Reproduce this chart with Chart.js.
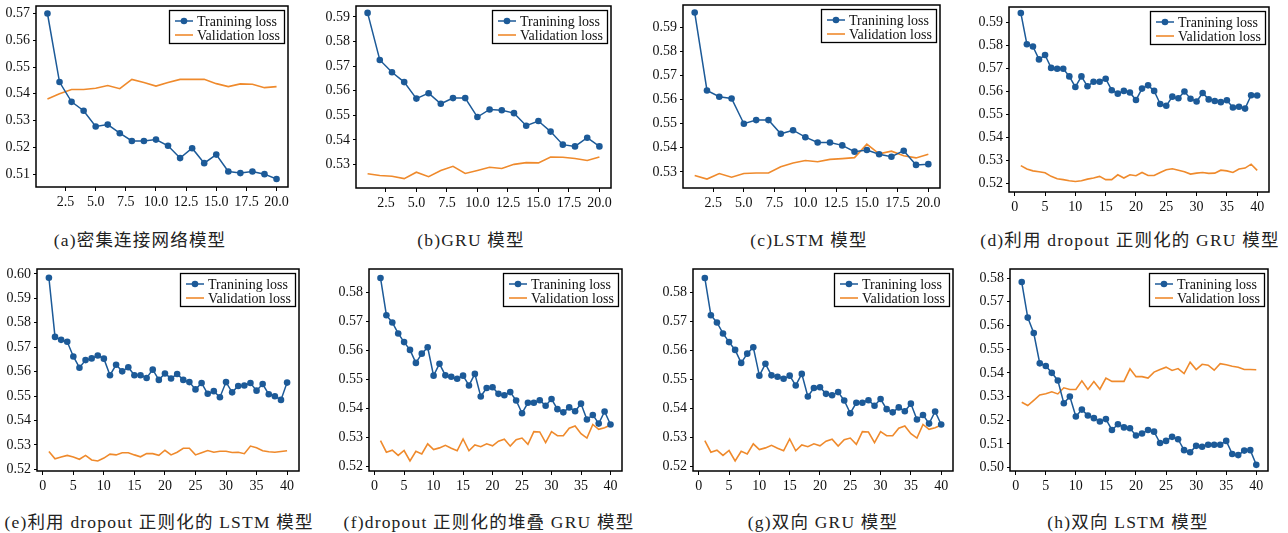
<!DOCTYPE html>
<html>
<head>
<meta charset="utf-8">
<script src="https://cdn.jsdelivr.net/npm/chart.js@4.4.1/dist/chart.umd.min.js"></script>
<style>
    body { margin: 0; background: #fff; width: 1288px; height: 533px; position: relative; overflow: hidden; }
    canvas { position: absolute; }
    .cap {
        position: absolute;
        font-family: "Liberation Serif", "Noto Sans CJK SC", serif;
        font-size: 17.5px;
        letter-spacing: 1.2px;
        color: #222;
        white-space: nowrap;
        transform: translate(-50%, -50%);
    }
</style>
</head>
<body>
<script>
// ===========================
// Data
// ===========================

const epochs20 = [1, 2, 3, 4, 5, 6, 7, 8, 9, 10, 11, 12, 13, 14, 15, 16, 17, 18, 19, 20];
const epochs40 = [1, 2, 3, 4, 5, 6, 7, 8, 9, 10, 11, 12, 13, 14, 15, 16, 17, 18, 19, 20,
    21, 22, 23, 24, 25, 26, 27, 28, 29, 30, 31, 32, 33, 34, 35, 36, 37, 38, 39, 40];

const xTicks20 = [2.5, 5.0, 7.5, 10.0, 12.5, 15.0, 17.5, 20.0];
const xTicks40 = [0, 5, 10, 15, 20, 25, 30, 35, 40];

const yTicksA = [0.51, 0.52, 0.53, 0.54, 0.55, 0.56, 0.57];
const yTicksB = [0.53, 0.54, 0.55, 0.56, 0.57, 0.58, 0.59];
const yTicksC = [0.53, 0.54, 0.55, 0.56, 0.57, 0.58, 0.59];
const yTicksD = [0.52, 0.53, 0.54, 0.55, 0.56, 0.57, 0.58, 0.59];
const yTicksE = [0.52, 0.53, 0.54, 0.55, 0.56, 0.57, 0.58, 0.59, 0.60];
const yTicksF = [0.52, 0.53, 0.54, 0.55, 0.56, 0.57, 0.58];
const yTicksG = [0.52, 0.53, 0.54, 0.55, 0.56, 0.57, 0.58];
const yTicksH = [0.50, 0.51, 0.52, 0.53, 0.54, 0.55, 0.56, 0.57, 0.58];

// (a) 密集连接网络
const denseTrain = [0.5700, 0.5444, 0.5370, 0.5337, 0.5278, 0.5285, 0.5253, 0.5224, 0.5224, 0.5229,
    0.5206, 0.5160, 0.5197, 0.5141, 0.5173, 0.5110, 0.5104, 0.5110, 0.5100, 0.5082];
const denseVal = [0.5381, 0.5400, 0.5416, 0.5416, 0.5421, 0.5431, 0.5419, 0.5454, 0.5442, 0.5429,
    0.5442, 0.5454, 0.5454, 0.5454, 0.5438, 0.5427, 0.5437, 0.5436, 0.5423, 0.5427];

// (b) GRU
const gruTrain = [0.5916, 0.5725, 0.5675, 0.5635, 0.5568, 0.5590, 0.5547, 0.5570, 0.5570, 0.5493,
    0.5524, 0.5521, 0.5509, 0.5458, 0.5477, 0.5434, 0.5381, 0.5374, 0.5409, 0.5374];
const gruVal = [0.5263, 0.5256, 0.5253, 0.5243, 0.5269, 0.5251, 0.5276, 0.5293, 0.5264, 0.5276,
    0.5289, 0.5284, 0.5301, 0.5308, 0.5307, 0.5331, 0.5330, 0.5325, 0.5317, 0.5331];

// (c) LSTM
const lstmTrain = [0.5962, 0.5638, 0.5612, 0.5605, 0.5500, 0.5515, 0.5515, 0.5458, 0.5473, 0.5444,
    0.5422, 0.5422, 0.5410, 0.5384, 0.5391, 0.5373, 0.5363, 0.5388, 0.5329, 0.5332];
const lstmVal = [0.5285, 0.5270, 0.5293, 0.5278, 0.5293, 0.5295, 0.5295, 0.5321, 0.5337, 0.5347,
    0.5342, 0.5352, 0.5355, 0.5359, 0.5415, 0.5375, 0.5386, 0.5367, 0.5358, 0.5373];

// (d) dropout GRU
const gruDropTrain = [0.5940, 0.5804, 0.5794, 0.5738, 0.5757, 0.5701, 0.5697, 0.5697, 0.5664, 0.5618,
    0.5664, 0.5621, 0.5641, 0.5641, 0.5654, 0.5604, 0.5589, 0.5601, 0.5594, 0.5561,
    0.5611, 0.5625, 0.5601, 0.5544, 0.5536, 0.5576, 0.5569, 0.5598, 0.5567, 0.5555,
    0.5592, 0.5564, 0.5557, 0.5552, 0.5560, 0.5529, 0.5532, 0.5524, 0.5582, 0.5581];
const gruDropVal = [0.5276, 0.5261, 0.5253, 0.5249, 0.5245, 0.5229, 0.5219, 0.5215, 0.5210, 0.5207,
    0.5210, 0.5217, 0.5222, 0.5229, 0.5215, 0.5215, 0.5236, 0.5222, 0.5236, 0.5232,
    0.5246, 0.5233, 0.5233, 0.5246, 0.5258, 0.5262, 0.5256, 0.5249, 0.5239, 0.5243,
    0.5246, 0.5242, 0.5243, 0.5256, 0.5253, 0.5246, 0.5261, 0.5265, 0.5282, 0.5255];

// (e) dropout LSTM
const lstmDropTrain = [0.5984, 0.5742, 0.5730, 0.5722, 0.5662, 0.5616, 0.5647, 0.5654, 0.5666, 0.5653,
    0.5585, 0.5628, 0.5601, 0.5618, 0.5585, 0.5585, 0.5574, 0.5608, 0.5566, 0.5592,
    0.5572, 0.5590, 0.5566, 0.5557, 0.5527, 0.5553, 0.5509, 0.5520, 0.5495, 0.5557,
    0.5515, 0.5541, 0.5543, 0.5553, 0.5522, 0.5549, 0.5507, 0.5499, 0.5484, 0.5555];
const lstmDropVal = [0.5273, 0.5243, 0.5250, 0.5257, 0.5250, 0.5241, 0.5257, 0.5238, 0.5234, 0.5246,
    0.5262, 0.5259, 0.5268, 0.5268, 0.5259, 0.5251, 0.5264, 0.5264, 0.5257, 0.5278,
    0.5259, 0.5270, 0.5286, 0.5286, 0.5259, 0.5268, 0.5277, 0.5270, 0.5274, 0.5274,
    0.5269, 0.5270, 0.5264, 0.5295, 0.5288, 0.5276, 0.5272, 0.5270, 0.5273, 0.5276];

// (f) stacked GRU with dropout
const stackGruTrain = [0.5851, 0.5722, 0.5697, 0.5659, 0.5629, 0.5602, 0.5557, 0.5589, 0.5611, 0.5513,
    0.5554, 0.5514, 0.5509, 0.5502, 0.5513, 0.5479, 0.5519, 0.5441, 0.5470, 0.5473,
    0.5450, 0.5445, 0.5456, 0.5427, 0.5383, 0.5419, 0.5419, 0.5428, 0.5409, 0.5432,
    0.5397, 0.5386, 0.5403, 0.5390, 0.5416, 0.5361, 0.5377, 0.5347, 0.5389, 0.5344];
const stackGruVal = [0.5288, 0.5248, 0.5255, 0.5237, 0.5254, 0.5218, 0.5251, 0.5242, 0.5277, 0.5257,
    0.5263, 0.5272, 0.5262, 0.5253, 0.5294, 0.5253, 0.5273, 0.5267, 0.5277, 0.5270,
    0.5286, 0.5293, 0.5269, 0.5291, 0.5297, 0.5275, 0.5319, 0.5318, 0.5281, 0.5319,
    0.5305, 0.5305, 0.5331, 0.5339, 0.5312, 0.5297, 0.5344, 0.5327, 0.5333, 0.5342];

// (g) bidirectional GRU (same curves as (f) in the source figure)
const biGruTrain = [0.5851, 0.5722, 0.5697, 0.5659, 0.5629, 0.5602, 0.5557, 0.5589, 0.5611, 0.5513,
    0.5554, 0.5514, 0.5509, 0.5502, 0.5513, 0.5479, 0.5519, 0.5441, 0.5470, 0.5473,
    0.5450, 0.5445, 0.5456, 0.5427, 0.5383, 0.5419, 0.5419, 0.5428, 0.5409, 0.5432,
    0.5397, 0.5386, 0.5403, 0.5390, 0.5416, 0.5361, 0.5377, 0.5347, 0.5389, 0.5344];
const biGruVal = [0.5288, 0.5248, 0.5255, 0.5237, 0.5254, 0.5218, 0.5251, 0.5242, 0.5277, 0.5257,
    0.5263, 0.5272, 0.5262, 0.5253, 0.5294, 0.5253, 0.5273, 0.5267, 0.5277, 0.5270,
    0.5286, 0.5293, 0.5269, 0.5291, 0.5297, 0.5275, 0.5319, 0.5318, 0.5281, 0.5319,
    0.5305, 0.5305, 0.5331, 0.5339, 0.5312, 0.5297, 0.5344, 0.5327, 0.5333, 0.5342];

// (h) bidirectional LSTM
const biLstmTrain = [0.5783, 0.5633, 0.5568, 0.5440, 0.5429, 0.5400, 0.5368, 0.5272, 0.5300, 0.5216,
    0.5245, 0.5220, 0.5209, 0.5195, 0.5205, 0.5159, 0.5183, 0.5170, 0.5166, 0.5136,
    0.5144, 0.5159, 0.5152, 0.5104, 0.5113, 0.5130, 0.5120, 0.5074, 0.5065, 0.5092,
    0.5088, 0.5097, 0.5097, 0.5097, 0.5113, 0.5058, 0.5053, 0.5072, 0.5074, 0.5012];
const biLstmVal = [0.5276, 0.5262, 0.5284, 0.5307, 0.5312, 0.5320, 0.5311, 0.5337, 0.5330, 0.5330,
    0.5366, 0.5330, 0.5363, 0.5331, 0.5378, 0.5364, 0.5364, 0.5364, 0.5417, 0.5384,
    0.5384, 0.5378, 0.5403, 0.5414, 0.5424, 0.5410, 0.5418, 0.5397, 0.5445, 0.5414,
    0.5436, 0.5432, 0.5411, 0.5439, 0.5434, 0.5428, 0.5424, 0.5414, 0.5414, 0.5413];

const seriesLabels = ['Tranining loss', 'Validation loss'];

// ===========================
// Panel layout
// ===========================

const TRAIN_COLOR = '#1c5a98';
const VAL_COLOR = '#ef8a2c';
const Y_AXIS_W = 40;
const X_AXIS_H = 26;
const FONT = '"Liberation Serif", serif';

const panels = [
    { caption: '(a)密集连接网络模型', capX: 140, capY: 238, box: [36, 4, 290, 187], x: epochs20, train: denseTrain, val: denseVal, yMin: 0.5052, yMax: 0.5728, yTicks: yTicksA, xTicks: xTicks20, xMin: 0.05, xMax: 20.95 },
    { caption: '(b)GRU 模型', capX: 471, capY: 238, box: [356, 4, 613, 188], x: epochs20, train: gruTrain, val: gruVal, yMin: 0.5205, yMax: 0.5944, yTicks: yTicksB, xTicks: xTicks20, xMin: 0.05, xMax: 20.95 },
    { caption: '(c)LSTM 模型', capX: 809, capY: 238, box: [683, 3, 942, 188], x: epochs20, train: lstmTrain, val: lstmVal, yMin: 0.5233, yMax: 0.5993, yTicks: yTicksC, xTicks: xTicks20, xMin: 0.05, xMax: 20.95 },
    { caption: '(d)利用 dropout 正则化的 GRU 模型', capX: 1130, capY: 238, box: [1009, 5, 1271, 192], x: epochs40, train: gruDropTrain, val: gruDropVal, yMin: 0.5161, yMax: 0.5966, yTicks: yTicksD, xTicks: xTicks40, xMin: -0.95, xMax: 41.95 },
    { caption: '(e)利用 dropout 正则化的 LSTM 模型', capX: 159, capY: 520, box: [37, 267, 301, 471], x: epochs40, train: lstmDropTrain, val: lstmDropVal, yMin: 0.5193, yMax: 0.6020, yTicks: yTicksE, xTicks: xTicks40, xMin: -0.95, xMax: 41.95 },
    { caption: '(f)dropout 正则化的堆叠 GRU 模型', capX: 489, capY: 520, box: [369, 267, 624, 471], x: epochs40, train: stackGruTrain, val: stackGruVal, yMin: 0.5183, yMax: 0.5882, yTicks: yTicksF, xTicks: xTicks40, xMin: -0.95, xMax: 41.95 },
    { caption: '(g)双向 GRU 模型', capX: 823, capY: 520, box: [693, 267, 955, 471], x: epochs40, train: biGruTrain, val: biGruVal, yMin: 0.5183, yMax: 0.5882, yTicks: yTicksG, xTicks: xTicks40, xMin: -0.95, xMax: 41.95 },
    { caption: '(h)双向 LSTM 模型', capX: 1128, capY: 520, box: [1010, 267, 1270, 471], x: epochs40, train: biLstmTrain, val: biLstmVal, yMin: 0.4986, yMax: 0.5838, yTicks: yTicksH, xTicks: xTicks40, xMin: -0.95, xMax: 41.95 }
];

/**
 * Marco negro y leyenda con borde, como en matplotlib
 */
const frameAndLegend = {
    id: 'frameAndLegend',
    afterDraw(chart) {
        const { ctx, chartArea: a } = chart;
        ctx.save();
        ctx.strokeStyle = '#000';
        ctx.lineWidth = 1.5;
        ctx.strokeRect(a.left, a.top, a.right - a.left, a.bottom - a.top);

        ctx.font = '14px ' + FONT;
        const sets = chart.data.datasets;
        const tw = Math.max(...sets.map(d => ctx.measureText(d.label).width));
        const w = Math.round(28 + tw + 4);
        const h = 33;
        const x0 = Math.round(a.right - 4 - w);
        const y0 = Math.round(a.top + 4);
        ctx.fillStyle = '#fff';
        ctx.fillRect(x0, y0, w, h);
        ctx.lineWidth = 1.3;
        ctx.strokeStyle = '#000';
        ctx.strokeRect(x0 + 0.5, y0 + 0.5, w, h);

        sets.forEach((d, i) => {
            const cy = y0 + 11 + i * 14;
            ctx.strokeStyle = d.borderColor;
            ctx.lineWidth = d.borderWidth;
            ctx.beginPath();
            ctx.moveTo(x0 + 6, cy);
            ctx.lineTo(x0 + 24, cy);
            ctx.stroke();
            if (d.pointRadius > 0) {
                ctx.fillStyle = d.borderColor;
                ctx.beginPath();
                ctx.arc(x0 + 15, cy, d.pointRadius, 0, Math.PI * 2);
                ctx.fill();
            }
            ctx.fillStyle = '#111';
            ctx.textBaseline = 'middle';
            ctx.fillText(d.label, x0 + 28, cy + 1);
        });
        ctx.restore();
    }
};

function buildPanel(p) {
    const [L, T, R, B] = p.box;
    const left = L - Y_AXIS_W;
    const top = T - 2;
    const width = R - left + 2;
    const height = B + X_AXIS_H - top;

    const canvas = document.createElement('canvas');
    canvas.width = width;
    canvas.height = height;
    canvas.style.left = left + 'px';
    canvas.style.top = top + 'px';
    canvas.style.width = width + 'px';
    canvas.style.height = height + 'px';
    document.body.appendChild(canvas);

    const cap = document.createElement('div');
    cap.className = 'cap';
    cap.textContent = p.caption;
    cap.style.left = p.capX + 'px';
    cap.style.top = p.capY + 'px';
    document.body.appendChild(cap);

    const is20 = p.x.length === 20;

    new Chart(canvas, {
        type: 'line',
        data: {
            datasets: [{
                label: seriesLabels[0],
                data: p.x.map((e, i) => ({ x: e, y: p.train[i] })),
                borderColor: TRAIN_COLOR,
                backgroundColor: TRAIN_COLOR,
                borderWidth: 1.5,
                pointRadius: 3.3,
                pointBorderWidth: 0,
                tension: 0
            }, {
                label: seriesLabels[1],
                data: p.x.map((e, i) => ({ x: e, y: p.val[i] })),
                borderColor: VAL_COLOR,
                backgroundColor: VAL_COLOR,
                borderWidth: 1.6,
                pointRadius: 0,
                tension: 0
            }]
        },
        options: {
            responsive: false,
            animation: false,
            devicePixelRatio: 1,
            layout: { padding: { top: 2, right: 2, left: 0, bottom: 0 } },
            plugins: { legend: { display: false }, tooltip: { enabled: false } },
            scales: {
                x: {
                    type: 'linear',
                    min: p.xMin,
                    max: p.xMax,
                    afterBuildTicks: s => { s.ticks = p.xTicks.map(v => ({ value: v })); },
                    afterFit: s => {
                        s.height = X_AXIS_H;
                        s.paddingLeft = 0;
                        s.paddingRight = 0;
                    },
                    grid: { display: true, drawOnChartArea: false, drawTicks: true, tickLength: 4, color: '#000' },
                    border: { display: false },
                    ticks: {
                        color: '#111',
                        font: { family: FONT, size: 14 },
                        padding: 3,
                        maxRotation: 0,
                        callback: v => is20 ? v.toFixed(1) : String(v)
                    }
                },
                y: {
                    type: 'linear',
                    min: p.yMin,
                    max: p.yMax,
                    afterBuildTicks: s => { s.ticks = p.yTicks.map(v => ({ value: v })); },
                    afterFit: s => {
                        s.width = Y_AXIS_W;
                        s.paddingTop = 0;
                        s.paddingBottom = 0;
                    },
                    grid: { display: true, drawOnChartArea: false, drawTicks: true, tickLength: 3, color: '#000' },
                    border: { display: false },
                    ticks: {
                        color: '#111',
                        font: { family: FONT, size: 14 },
                        padding: 3,
                        callback: v => v.toFixed(2)
                    }
                }
            }
        },
        plugins: [frameAndLegend]
    });
}

panels.forEach(buildPanel);
</script>
</body>
</html>
